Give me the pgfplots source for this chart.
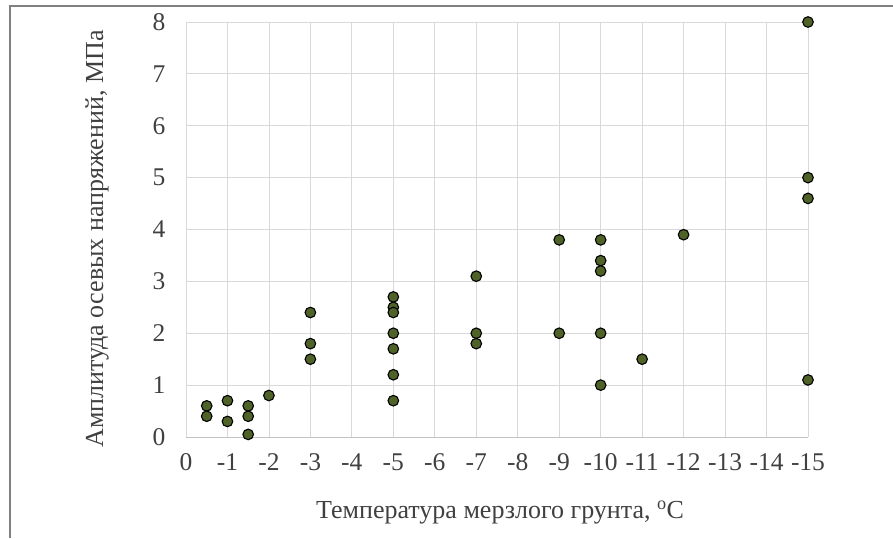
\documentclass[border=0pt]{standalone}
\usepackage{pgfplots}
\pgfplotsset{compat=1.18}
\usepackage{fontspec}
\setmainfont{Liberation Serif}
\definecolor{mkfill}{HTML}{4F6228}
\definecolor{gridc}{HTML}{D9D9D9}
\definecolor{txt}{HTML}{404040}
\begin{document}
\begin{tikzpicture}[x=1pt,y=1pt]
\useasboundingbox (-186,-101) rectangle (707,437);
\draw[color=gray, line width=2pt] (-176,-101) -- (-176,431) -- (707,431);
\begin{axis}[
  at={(0,0)}, anchor=origin,
  scale only axis, width=622pt, height=415pt,
  x dir=reverse,
  xmin=-15, xmax=0, ymin=0, ymax=8,
  xtick={0,-1,...,-15}, ytick={0,1,...,8},
  grid=major, grid style={gridc, line width=0.8pt},
  axis line style={draw=none},
  major tick length=0pt,
  tick label style={font=\fontsize{25.5}{30}\selectfont, text=txt},
  /pgf/number format/assume math mode=true,
  xticklabel style={yshift=-13pt},
  yticklabel style={xshift=-17pt},
  xlabel={Температура мерзлого грунта, \textsuperscript{o}C},
  ylabel={Амплитуда осевых напряжений, МПа},
  label style={font=\fontsize{26}{30}\selectfont, text=txt},
  xlabel style={at={(axis description cs:0.505,-0.183)}, anchor=center},
  ylabel style={at={(axis description cs:-0.1431,0.477)}, anchor=center},
  clip=false,
]
\draw[gridc!90!black, line width=1pt] (axis cs:0,0) -- (axis cs:-15,0);
\addplot[only marks, mark=*, mark size=5.3pt, mark options={fill=mkfill, draw=black, line width=1.1pt}] coordinates {
(-0.5,0.6) (-0.5,0.4)
(-1,0.7) (-1,0.3)
(-1.5,0.6) (-1.5,0.4) (-1.5,0.05)
(-2,0.8)
(-3,2.4) (-3,1.8) (-3,1.5)
(-5,2.7) (-5,2.5) (-5,2.4) (-5,2.0) (-5,1.7) (-5,1.2) (-5,0.7)
(-7,3.1) (-7,2.0) (-7,1.8)
(-9,3.8) (-9,2.0)
(-10,3.8) (-10,3.4) (-10,3.2) (-10,2.0) (-10,1.0)
(-11,1.5)
(-12,3.9)
(-15,8.0) (-15,5.0) (-15,4.6) (-15,1.1)
};
\end{axis}
\end{tikzpicture}
\end{document}
